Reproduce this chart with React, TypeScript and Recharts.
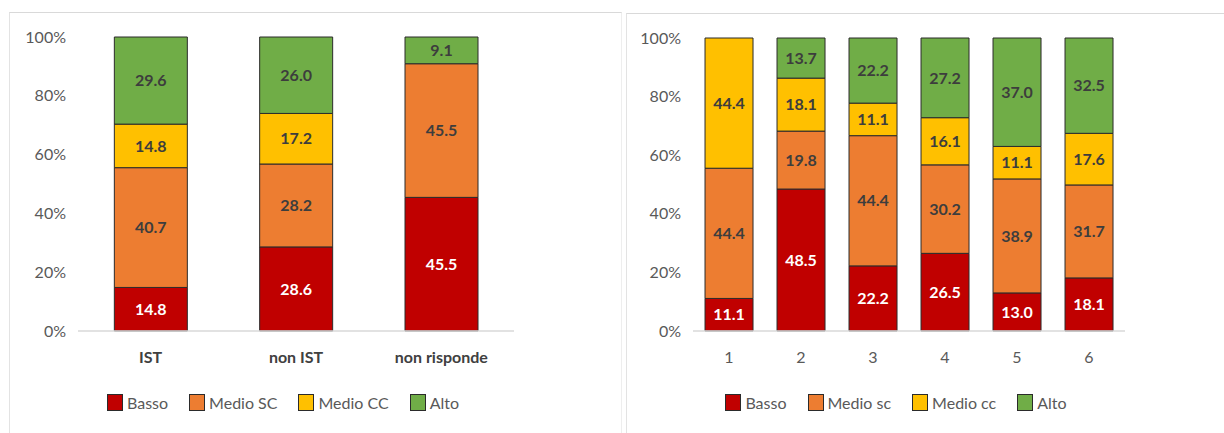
import { BarChart, Bar, XAxis, YAxis, Legend, LabelList } from "recharts";

const groupsA = ["IST", "non IST", "non risponde"];
const bassoA = [14.8, 28.6, 45.5];
const medioScA = [40.7, 28.2, 45.5];
const medioCcA = [14.8, 17.2, 0];
const altoA = [29.6, 26.0, 9.1];

const groupsB = ["1", "2", "3", "4", "5", "6"];
const bassoB = [11.1, 48.5, 22.2, 26.5, 13.0, 18.1];
const medioScB = [44.4, 19.8, 44.4, 30.2, 38.9, 31.7];
const medioCcB = [44.4, 18.1, 11.1, 16.1, 11.1, 17.6];
const altoB = [0, 13.7, 22.2, 27.2, 37.0, 32.5];

const yTicks = [0, 0.2, 0.4, 0.6, 0.8, 1];
const seriesKeys = ["basso", "medioSc", "medioCc", "alto"];

const FONT = "Lato, 'Open Sans', sans-serif";
const RED = "#C00000";
const ORANGE = "#ED7D31";
const YELLOW = "#FFC000";
const GREEN = "#70AD47";
const EDGE = "#2b2b2b";

const dataA = groupsA.map((g, i) => ({
  name: g,
  basso: bassoA[i],
  medioSc: medioScA[i],
  medioCc: medioCcA[i],
  alto: altoA[i],
}));

const dataB = groupsB.map((g, i) => ({
  name: g,
  basso: bassoB[i],
  medioSc: medioScB[i],
  medioCc: medioCcB[i],
  alto: altoB[i],
}));

const fmt = (v: any) => (Number(v) > 0 ? Number(v).toFixed(1) : "");
const pct = (v: number) => `${Math.round(v * 100)}%`;
const orderOf = (p: any) => seriesKeys.indexOf(String(p.dataKey));

const LegendBox = ({ payload }: any) => {
  const items = (payload ?? []).slice().sort((a: any, b: any) => orderOf(a) - orderOf(b));
  return (
    <div style={{ display: "flex", justifyContent: "center", gap: 21, fontFamily: FONT, fontSize: 16, color: "#595959" }}>
      {items.map((p: any) => (
        <div key={p.value} style={{ display: "flex", alignItems: "center", gap: 4 }}>
          <span style={{ width: 14, height: 15, background: p.color, border: `1px solid ${EDGE}`, display: "inline-block" }} />
          <span>{p.value}</span>
        </div>
      ))}
    </div>
  );
};

interface PanelProps {
  data: any[];
  width: number;
  height: number;
  yWidth: number;
  right: number;
  gap: string;
  boldX: boolean;
  legendWidth: number;
  names: string[];
}

const StackPanel = ({ data, width, height, yWidth, right, gap, boldX, legendWidth, names }: PanelProps) => {
  const series = [
    { key: "basso", color: RED, label: "#ffffff" },
    { key: "medioSc", color: ORANGE, label: "#3d3d3d" },
    { key: "medioCc", color: YELLOW, label: "#3d3d3d" },
    { key: "alto", color: GREEN, label: "#3d3d3d" },
  ];
  return (
    <BarChart
      width={width}
      height={height}
      data={data}
      stackOffset="expand"
      barCategoryGap={gap}
      margin={{ top: 24, right, bottom: 16, left: 0 }}
    >
      <XAxis
        dataKey="name"
        height={62}
        tickLine={false}
        tickSize={0}
        tickMargin={21}
        axisLine={{ stroke: "#d9d9d9", strokeWidth: 1.5 }}
        tick={{ fill: boldX ? "#404040" : "#595959", fontSize: 16, fontWeight: boldX ? 700 : 400, fontFamily: FONT }}
      />
      <YAxis
        width={yWidth}
        domain={[0, 1]}
        ticks={yTicks}
        tickFormatter={pct}
        axisLine={false}
        tickLine={false}
        tickSize={0}
        tickMargin={12}
        tick={{ fill: "#595959", fontSize: 16, fontFamily: FONT }}
      />
      <Legend
        verticalAlign="bottom"
        itemSorter={orderOf as any}
        content={<LegendBox />}
        wrapperStyle={{ left: 0, width: legendWidth, height: 24 }}
      />
      {series.map((s, i) => (
        <Bar
          key={s.key}
          dataKey={s.key}
          name={names[i]}
          stackId="s"
          fill={s.color}
          stroke={EDGE}
          strokeWidth={1}
          isAnimationActive={false}
        >
          <LabelList
            dataKey={s.key}
            position="center"
            formatter={fmt}
            fill={s.label}
            style={{ fontFamily: FONT, fontSize: 16, fontWeight: 700 }}
          />
        </Bar>
      ))}
    </BarChart>
  );
};

export default function App() {
  return (
    <div style={{ position: "absolute", left: 0, top: 0, width: 1224, height: 433, background: "#fff", overflow: "hidden" }}>
      <div
        style={{
          position: "absolute",
          left: 9,
          top: 12,
          width: 611,
          height: 421,
          borderTop: "1px solid #d9d9d9",
          borderLeft: "1px solid #e3e3e3",
          borderRight: "1px solid #eeeeee",
        }}
      >
        <StackPanel
          data={dataA}
          width={600}
          height={420}
          yWidth={68}
          right={96}
          gap="25%"
          boldX={true}
          legendWidth={546}
          names={["Basso", "Medio SC", "Medio CC", "Alto"]}
        />
      </div>
      <div
        style={{
          position: "absolute",
          left: 626,
          top: 13,
          width: 598,
          height: 420,
          borderTop: "1px solid #d9d9d9",
          borderLeft: "1px solid #e3e3e3",
        }}
      >
        <StackPanel
          data={dataB}
          width={597}
          height={419}
          yWidth={66}
          right={99}
          gap="16.7%"
          boldX={false}
          legendWidth={538}
          names={["Basso", "Medio sc", "Medio cc", "Alto"]}
        />
      </div>
    </div>
  );
}
